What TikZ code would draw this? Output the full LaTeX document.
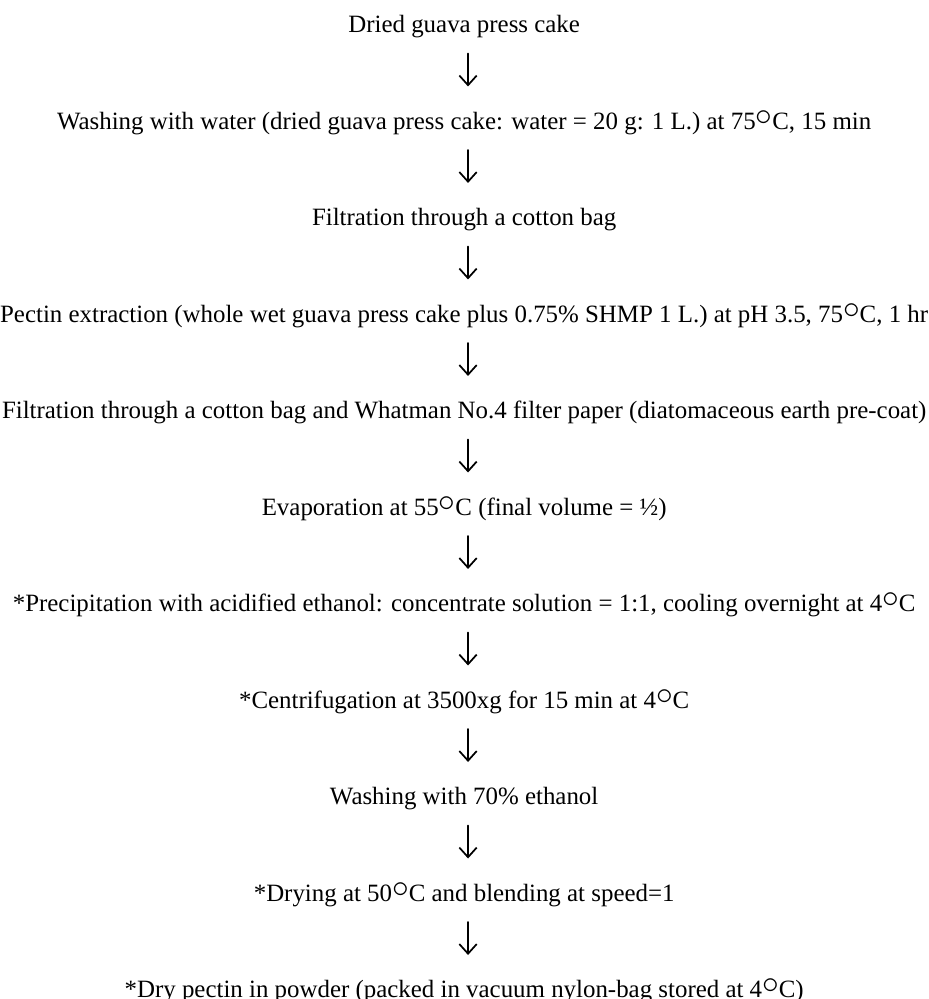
\documentclass[tikz,border=0pt]{standalone}
\usepackage{fontspec}
\setmainfont{Liberation Serif}
\usepackage{tikz}
\usetikzlibrary{arrows.meta,positioning}
\newcommand{\dgC}{\raisebox{2pt}{\fontsize{16}{18}\selectfont$\circ$}C}

\begin{document}
\begin{tikzpicture}[>={Straight Barb[length=5pt,width=9pt]},line cap=round,line join=round,
  stage/.style={font=\fontsize{12.9}{15}\selectfont,inner sep=0pt,text height=9pt,text depth=3pt},
  node distance=37.6pt]
% frame
\useasboundingbox (-240.5pt,0pt) rectangle (240.5pt,-517.6pt);
% stages
\node[stage] (dried) at (0pt,-14pt) {Dried guava press cake};
\node[stage,below=of dried] (wash) {Washing with water (dried guava press cake: water = 20 g: 1 L.) at 75\dgC, 15 min};
\node[stage,below=of wash] (filt) {Filtration through a cotton bag};
\node[stage,below=of filt] (extr) {Pectin extraction (whole wet guava press cake plus 0.75\% SHMP 1 L.) at pH 3.5, 75\dgC, 1 hr};
\node[stage,below=of extr] (filtb) {Filtration through a cotton bag and Whatman No.4 filter paper (diatomaceous earth pre-coat)};
\node[stage,below=of filtb] (evap) {Evaporation at 55\dgC{} (final volume = ½)};
\node[stage,below=of evap] (prec) {*Precipitation with acidified ethanol: concentrate solution = 1:1, cooling overnight at 4\dgC};
\node[stage,below=of prec] (cent) {*Centrifugation at 3500xg for 15 min at 4\dgC};
\node[stage,below=of cent] (washb) {Washing with 70\% ethanol};
\node[stage,below=of washb] (dry) {*Drying at 50\dgC{} and blending at speed=1};
\node[stage,below=of dry] (powder) {*Dry pectin in powder (packed in vacuum nylon-bag stored at 4\dgC)};
% arrows
\foreach \a/\b in {dried/wash,wash/filt,filt/extr,extr/filtb,filtb/evap,evap/prec,prec/cent,cent/washb,washb/dry,dry/powder}
  \draw[->,line width=0.9pt,shorten <=7.5pt,shorten >=13pt] ([xshift=2pt]\a.south) -- ([xshift=2pt]\b.north);
\end{tikzpicture}
\end{document}
